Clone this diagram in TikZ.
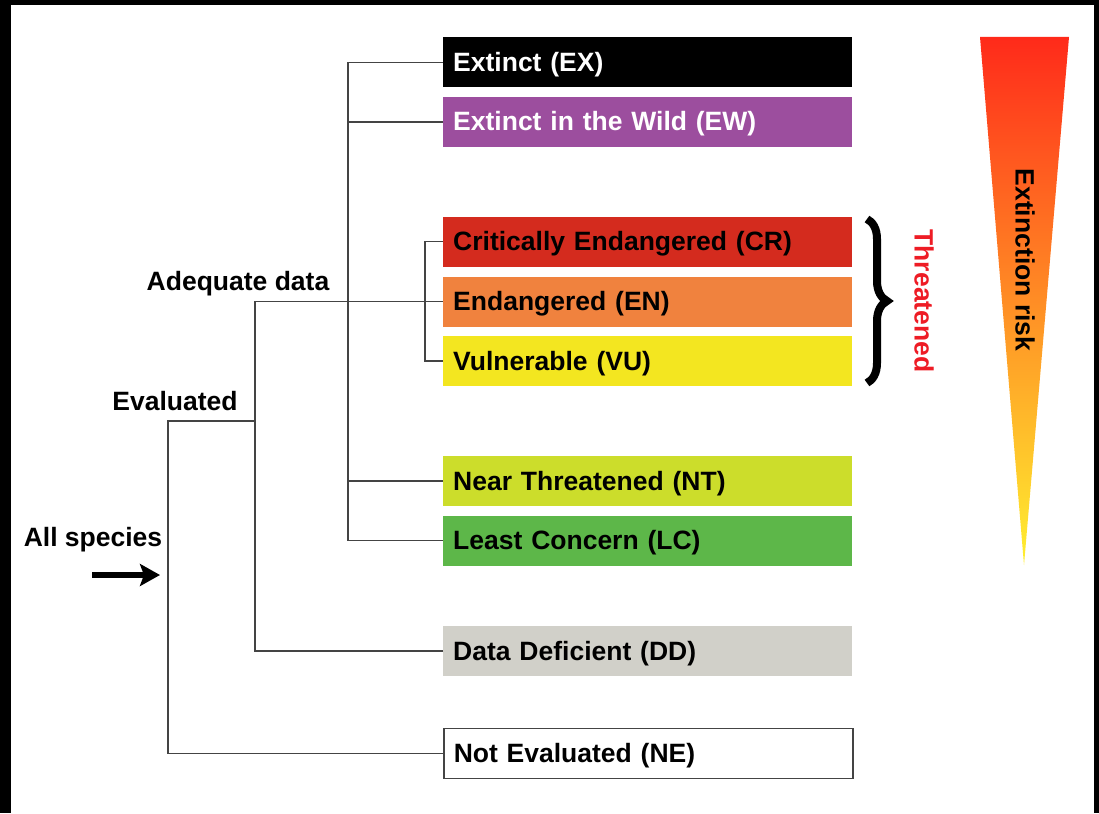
\documentclass[tikz,border=0pt]{standalone}
\usepackage{fontspec}
\setmainfont{Liberation Sans}
\usetikzlibrary{arrows.meta,decorations.pathreplacing}

\definecolor{exc}{HTML}{000000}
\definecolor{ewc}{HTML}{9C4E9E}
\definecolor{crc}{HTML}{D42B1E}
\definecolor{enc}{HTML}{F0823E}
\definecolor{vuc}{HTML}{F3E620}
\definecolor{ntc}{HTML}{CCDD2B}
\definecolor{lcc}{HTML}{5DB749}
\definecolor{ddc}{HTML}{D1D0C9}
\definecolor{linec}{HTML}{444444}
\definecolor{thrc}{HTML}{EE1C25}
\definecolor{risktop}{HTML}{FF2A1A}
\definecolor{riskmid}{HTML}{F7941E}
\definecolor{riskbot}{HTML}{FFF030}

\begin{document}
\begin{tikzpicture}[x=1pt, y=-1pt,
    font=\fontsize{26.5}{30}\selectfont\bfseries,
    cat/.style={anchor=west, minimum height=50pt, text width=389pt,
      inner sep=10pt, align=left, text height=19pt, text depth=1pt},
    lbl/.style={inner sep=0pt, text height=19pt, text depth=1pt},
    vlbl/.style={inner sep=0pt, rotate=-90},
    tree/.style={draw=linec, line width=1.5pt}]

    % frame
    \fill[black] (0,0) rectangle (1099,813);
    \fill[white] (11,5) rectangle (1094,813);
    \useasboundingbox (0,0) rectangle (1099,813);

    \node[cat, fill=exc, text=white] (ex) at (443, 62.5) {Extinct (EX)};
    \node[cat, fill=ewc, text=white] (ew) at (443, 122) {Extinct in the Wild (EW)};
    \node[cat, fill=crc] (cr) at (443, 241.5) {Critically Endangered (CR)};
    \node[cat, fill=enc] (en) at (443, 301.5) {Endangered (EN)};
    \node[cat, fill=vuc] (vu) at (443, 361) {Vulnerable (VU)};
    \node[cat, fill=ntc] (nt) at (443, 481) {Near Threatened (NT)};
    \node[cat, fill=lcc] (lc) at (443, 540.5) {Least Concern (LC)};
    \node[cat, fill=ddc] (dd) at (443, 651) {Data Deficient (DD)};
    \node[cat, draw=linec, line width=1.5pt, fill=white] (ne) at (443, 753.5) {Not Evaluated (NE)};

    \node[lbl] (adlbl) at (238, 281) {Adequate data};
    \node[lbl] (evlbl) at (175, 401) {Evaluated};
    \node[lbl] (alllbl) at (93, 537) {All species};

    \coordinate (ev) at (168, 421);
    \coordinate (adq) at (255, 421);
    \coordinate (up) at (348, 301.5);
    \coordinate (thr) at (425, 301.5);
    \coordinate (arrs) at (92, 575);
    \coordinate (arre) at (160, 575);

    \draw[tree] (ne.west) -| (ev) -- (adq);
    \draw[tree] (dd.west) -| (adq) |- (en.west);
    \draw[tree] (ex.west) -| (up);
    \draw[tree] (lc.west) -| (up);
    \draw[tree] (ew.west) -- (ew.west -| up);
    \draw[tree] (nt.west) -- (nt.west -| up);
    \draw[tree] (cr.west) -| (thr);
    \draw[tree] (vu.west) -| (thr);

    \draw[line width=6pt, -{Stealth[length=20pt, width=22pt, inset=4pt]}] (arrs) -- (arre);

    % threatened brace
    \coordinate (bt) at (867, 219);
    \coordinate (bb) at (867, 383);
    \draw[line width=8pt, decorate, decoration={brace, amplitude=20pt}] (bt) -- (bb);
    \node[vlbl, text=thrc] (thrlbl) at (924, 301) {Threatened};

    % extinction risk
    \shade[top color=risktop, middle color=riskmid, bottom color=riskbot]
      (980, 37) -- (1069, 37) -- (1024, 565) -- cycle;
    \node[vlbl] (risk) at (1025, 260) {Extinction risk};

  \end{tikzpicture}
\end{document}
